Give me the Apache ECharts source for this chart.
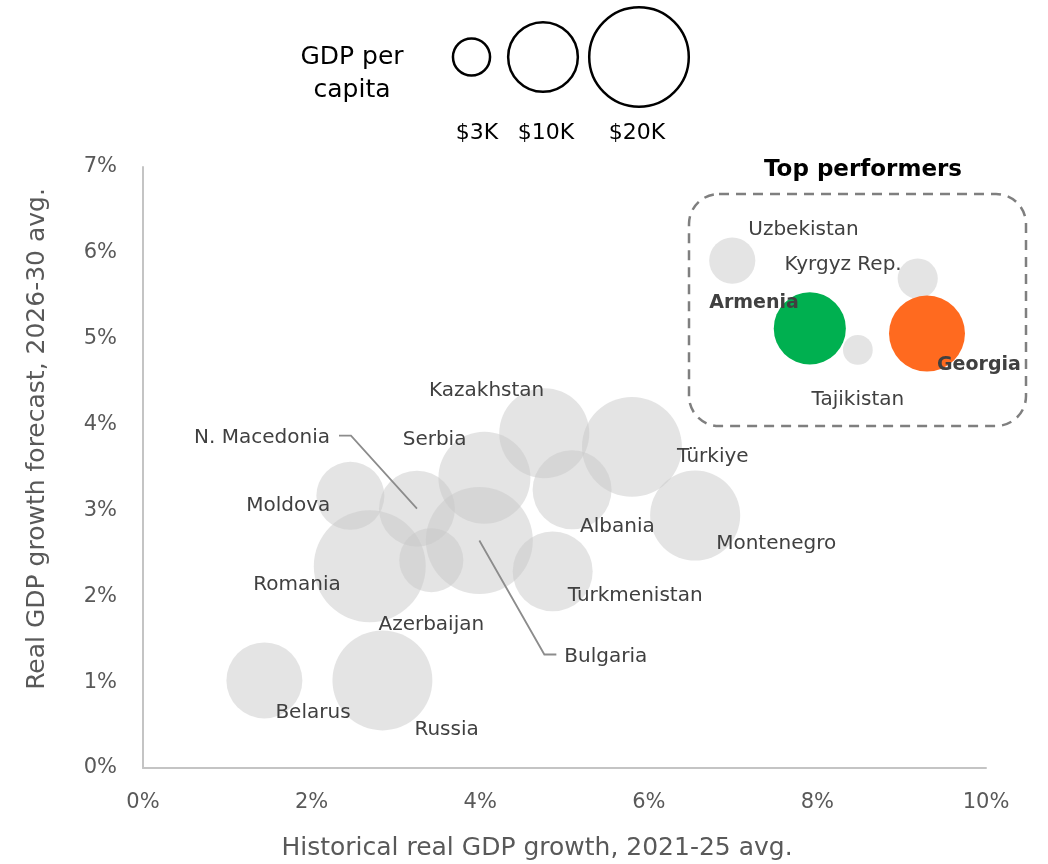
<!DOCTYPE html>
<html>
<head>
<meta charset="utf-8">
<script src="https://cdn.jsdelivr.net/npm/echarts@6/dist/echarts.min.js"></script>
<style>
  html, body { margin: 0; background: #fff; }
  #chart { width: 1048px; height: 864px; }
</style>
</head>
<body>
<div id="chart"></div>
<script>
// data
const countries = ['Kazakhstan', 'Serbia', 'N. Macedonia', 'Moldova', 'Romania', 'Azerbaijan', 'Bulgaria',
  'Albania', 'Türkiye', 'Montenegro', 'Turkmenistan', 'Belarus', 'Russia',
  'Uzbekistan', 'Kyrgyz Rep.', 'Armenia', 'Tajikistan', 'Georgia']
const historicalGrowth = [4.76, 4.05, 3.25, 2.46, 2.69, 3.42, 3.99, 5.09, 5.80, 6.55, 4.86, 1.44, 2.84,
  6.99, 9.19, 7.91, 8.48, 9.30]
const forecastGrowth = [3.90, 3.38, 3.02, 3.17, 2.35, 2.42, 2.65, 3.24, 3.74, 2.94, 2.29, 1.02, 1.02,
  5.91, 5.70, 5.12, 4.87, 5.06]
const gdpPerCapita = [15.6, 16.3, 11.1, 8.9, 24.1, 7.9, 22.0, 12.0, 19.2, 15.6, 12.3, 11.1, 19.2,
  4.1, 3.1, 10.0, 1.7, 11.1] // $K
const legendValues = [3, 10, 20]
const legendLabels = ['$3K', '$10K', '$20K']

// 样式
const FONT = 'DejaVu Sans'
const highlight = { Armenia: '#00b050', Georgia: '#ff6a1f' }

// label anchor: [dx, dy, align]
const labelLayout = {
  'Kazakhstan': [0, -42, 'right'],
  'Serbia': [-18, -38, 'right'],
  'N. Macedonia': [-87, -71, 'right'],
  'Moldova': [-20, 10, 'right'],
  'Romania': [-29, 19, 'right'],
  'Azerbaijan': [0, 65, 'center'],
  'Bulgaria': [85, 116, 'left'],
  'Albania': [8, 37, 'left'],
  'Türkiye': [45, 10, 'left'],
  'Montenegro': [21, 28, 'left'],
  'Turkmenistan': [15, 24, 'left'],
  'Belarus': [11, 32, 'left'],
  'Russia': [32, 49, 'left'],
  'Uzbekistan': [16, -31, 'left'],
  'Kyrgyz Rep.': [-16, -14, 'right'],
  'Armenia': [-11, -25, 'right'],
  'Tajikistan': [0, 50, 'center'],
  'Georgia': [10, 31, 'left']
}

// leader lines, offsets from bubble centre
const leaders = {
  'N. Macedonia': [[-66, -73], [-78, -73]],
  'Bulgaria': [[65, 114], [77, 114]]
}

const bubbleSize = k => 22.8 * Math.sqrt(k)

const seriesData = countries.map((name, i) => {
  const [dx, dy, align] = labelLayout[name]
  const hl = highlight[name]
  return {
    name,
    value: [historicalGrowth[i], forecastGrowth[i], gdpPerCapita[i]],
    itemStyle: hl ? { color: hl } : undefined,
    label: {
      offset: [dx, dy],
      align,
      fontWeight: hl ? 'bold' : 'normal',
      fontSize: hl ? 19 : 20
    }
  }
})

const chart = echarts.init(document.getElementById('chart'))

const option = {
  animation: false,
  textStyle: { fontFamily: FONT },
  grid: { left: 143, right: 62, top: 167, bottom: 96 },
  xAxis: {
    type: 'value',
    min: 0, max: 10, interval: 2,
    axisLine: { show: true, lineStyle: { color: '#c4c4c4', width: 2 } },
    axisTick: { show: false },
    splitLine: { show: false },
    axisLabel: { formatter: '{value}%', color: '#595959', fontSize: 21, margin: 24 }
  },
  yAxis: {
    type: 'value',
    min: 0, max: 7, interval: 1,
    axisLine: { show: true, lineStyle: { color: '#c4c4c4', width: 2 } },
    axisTick: { show: false },
    splitLine: { show: false },
    axisLabel: { formatter: '{value}%', color: '#595959', fontSize: 21, margin: 26 }
  },
  series: [{
    type: 'scatter',
    data: seriesData,
    symbolSize: v => bubbleSize(v[2]),
    itemStyle: { color: 'rgba(201,201,201,0.5)', opacity: 1 },
    label: {
      show: true,
      position: 'inside',
      formatter: '{b}',
      color: '#404040',
      fontSize: 20,
      fontFamily: FONT,
      verticalAlign: 'middle'
    },
    emphasis: { disabled: true }
  }]
}

chart.setOption(option)

// 图形元素: legend, box, axis titles, leader lines
const graphics = []
const txt = (text, x, y, size, fill, extra) => ({
  type: 'text', x, y,
  style: Object.assign({ text, fontSize: size, fontFamily: FONT, fill, align: 'center', verticalAlign: 'middle' }, extra || {})
})

graphics.push(txt('GDP per', 352, 57, 25, '#000'), txt('capita', 352, 90, 25, '#000'))
const legendX = [471.5, 543, 639]
legendValues.forEach((v, i) => {
  const r = bubbleSize(v) / 2 - 1.2
  graphics.push({
    type: 'circle',
    shape: { cx: legendX[i], cy: 57, r },
    style: { fill: 'none', stroke: '#000', lineWidth: 2.5 }
  })
  graphics.push(txt(legendLabels[i], [477, 546, 637][i], 133, 22, '#000'))
})

// top performers box
graphics.push({
  type: 'rect',
  shape: { x: 689, y: 194, width: 337, height: 232, r: 30 },
  style: { fill: 'none', stroke: '#7f7f7f', lineWidth: 2.5, lineDash: [10, 7] },
  z: 1
})
graphics.push(txt('Top performers', 863, 170, 23, '#000', { fontWeight: 'bold' }))

// axis titles
graphics.push(txt('Historical real GDP growth, 2021-25 avg.', 537, 848, 25, '#595959'))
graphics.push(Object.assign(txt('Real GDP growth forecast, 2026-30 avg.', 37, 439, 25, '#595959'), { rotation: Math.PI / 2 }))

// leader lines
Object.keys(leaders).forEach(name => {
  const i = countries.indexOf(name)
  const [cx, cy] = chart.convertToPixel({ gridIndex: 0 }, [historicalGrowth[i], forecastGrowth[i]])
  const pts = [[cx, cy]].concat(leaders[name].map(([dx, dy]) => [cx + dx, cy + dy]))
  graphics.push({
    type: 'polyline',
    shape: { points: pts },
    style: { stroke: '#8c8c8c', lineWidth: 1.8, fill: 'none' },
    z: 100
  })
})

chart.setOption({ graphic: graphics })

window.addEventListener('resize', () => chart.resize())
</script>
</body>
</html>
